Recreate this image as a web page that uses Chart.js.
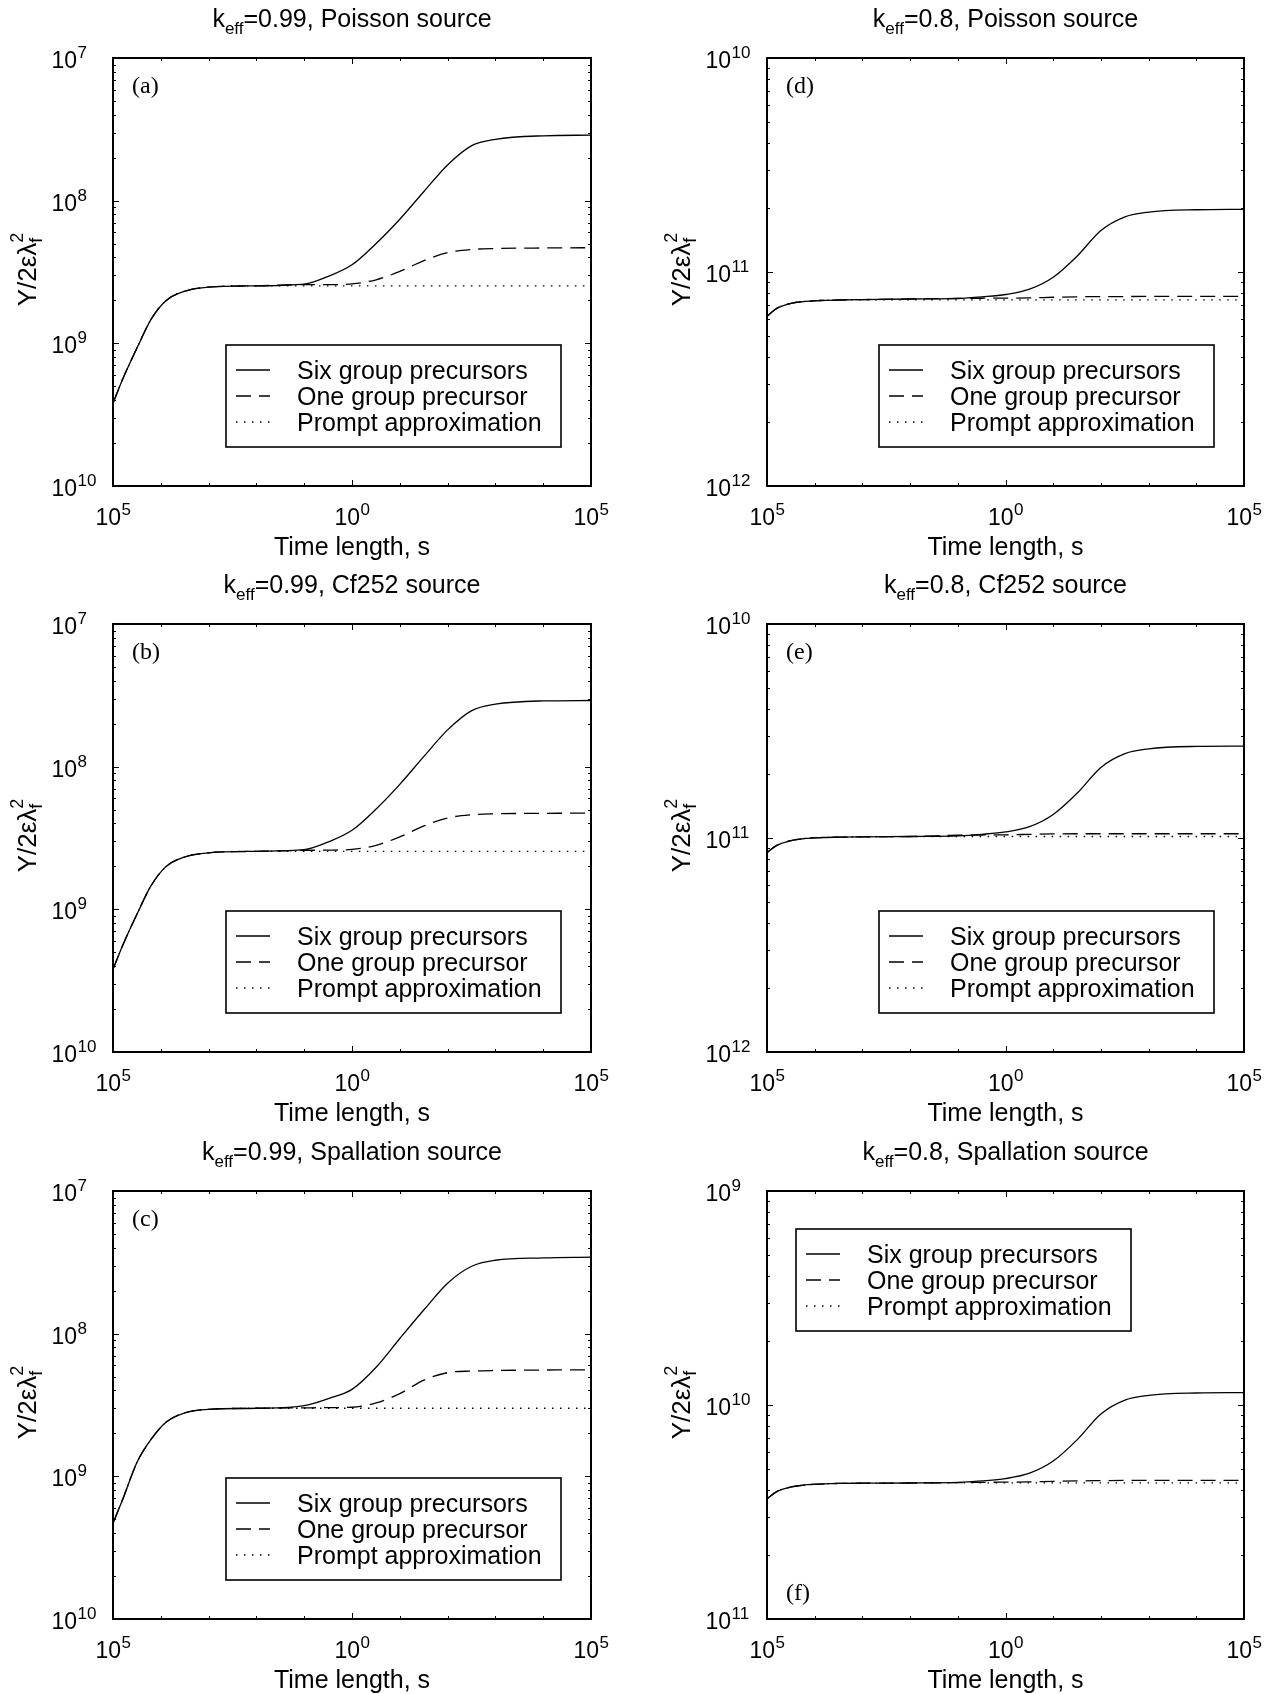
<!DOCTYPE html>
<html>
<head>
<meta charset="utf-8">
<script src="https://cdn.jsdelivr.net/npm/chart.js@4.4.1/dist/chart.umd.min.js"></script>
<style>
  body { margin: 0; background: #fff; width: 1276px; height: 1694px; position: relative; overflow: hidden; }
  canvas { position: absolute; }
</style>
</head>
<body>
<canvas id="chart-a" width="638" height="566" style="left:0;top:0"></canvas>
<canvas id="chart-d" width="638" height="566" style="left:638px;top:0"></canvas>
<canvas id="chart-b" width="638" height="566" style="left:0;top:566px"></canvas>
<canvas id="chart-e" width="638" height="566" style="left:638px;top:566px"></canvas>
<canvas id="chart-c" width="638" height="566" style="left:0;top:1133px"></canvas>
<canvas id="chart-f" width="638" height="566" style="left:638px;top:1133px"></canvas>
<script>
// Time points (s), shared by every curve
const times = [1e-5, 1.6e-5, 3.2e-5, 6.3e-5, 1.3e-4, 3.2e-4, 1e-3, 1e-2, 0.1, 0.32, 1, 3.2, 10, 32, 100, 320, 1e3, 1e4, 1e5];

// k_eff = 0.99, Poisson source (a)
const sixA = [3.80e-10, 5.62e-10, 9.33e-10, 1.48e-9, 2.00e-9, 2.32e-9, 2.48e-9, 2.53e-9, 2.60e-9, 2.95e-9, 3.55e-9, 5.01e-9, 7.41e-9, 1.16e-8, 1.78e-8, 2.43e-8, 2.69e-8, 2.85e-8, 2.88e-8];
const oneA = [3.80e-10, 5.62e-10, 9.33e-10, 1.48e-9, 2.00e-9, 2.32e-9, 2.48e-9, 2.53e-9, 2.58e-9, 2.58e-9, 2.61e-9, 2.79e-9, 3.19e-9, 3.80e-9, 4.32e-9, 4.55e-9, 4.62e-9, 4.66e-9, 4.68e-9];
const promptA = [3.80e-10, 5.62e-10, 9.33e-10, 1.48e-9, 2.00e-9, 2.32e-9, 2.48e-9, 2.53e-9, 2.53e-9, 2.53e-9, 2.53e-9, 2.53e-9, 2.53e-9, 2.53e-9, 2.53e-9, 2.53e-9, 2.53e-9, 2.53e-9, 2.53e-9];

// k_eff = 0.99, Cf252 source (b)
const sixB = [3.80e-10, 5.60e-10, 9.30e-10, 1.47e-9, 2.00e-9, 2.33e-9, 2.49e-9, 2.55e-9, 2.62e-9, 2.97e-9, 3.58e-9, 5.05e-9, 7.52e-9, 1.18e-8, 1.81e-8, 2.47e-8, 2.74e-8, 2.89e-8, 2.91e-8];
const oneB = [3.80e-10, 5.60e-10, 9.30e-10, 1.47e-9, 2.00e-9, 2.33e-9, 2.49e-9, 2.55e-9, 2.59e-9, 2.60e-9, 2.63e-9, 2.81e-9, 3.22e-9, 3.84e-9, 4.37e-9, 4.60e-9, 4.67e-9, 4.71e-9, 4.72e-9];
const promptB = [3.80e-10, 5.60e-10, 9.30e-10, 1.47e-9, 2.00e-9, 2.33e-9, 2.49e-9, 2.55e-9, 2.55e-9, 2.55e-9, 2.55e-9, 2.55e-9, 2.55e-9, 2.55e-9, 2.55e-9, 2.55e-9, 2.55e-9, 2.55e-9, 2.55e-9];

// k_eff = 0.99, Spallation source (c)
const sixC = [4.68e-10, 6.92e-10, 1.26e-9, 1.82e-9, 2.40e-9, 2.79e-9, 2.95e-9, 3.00e-9, 3.13e-9, 3.51e-9, 4.07e-9, 5.82e-9, 9.25e-9, 1.47e-8, 2.26e-8, 2.97e-8, 3.27e-8, 3.40e-8, 3.44e-8];
const oneC = [4.68e-10, 6.92e-10, 1.26e-9, 1.82e-9, 2.40e-9, 2.79e-9, 2.95e-9, 3.00e-9, 3.02e-9, 3.03e-9, 3.05e-9, 3.27e-9, 3.80e-9, 4.73e-9, 5.33e-9, 5.47e-9, 5.52e-9, 5.56e-9, 5.58e-9];
const promptC = [4.68e-10, 6.92e-10, 1.26e-9, 1.82e-9, 2.40e-9, 2.79e-9, 2.95e-9, 3.00e-9, 3.00e-9, 3.00e-9, 3.00e-9, 3.00e-9, 3.00e-9, 3.00e-9, 3.00e-9, 3.00e-9, 3.00e-9, 3.00e-9, 3.00e-9];

// k_eff = 0.8, Poisson source (d)
const sixD = [6.22e-12, 6.76e-12, 7.14e-12, 7.29e-12, 7.36e-12, 7.40e-12, 7.43e-12, 7.48e-12, 7.53e-12, 7.66e-12, 7.85e-12, 8.32e-12, 9.46e-12, 1.189e-11, 1.563e-11, 1.811e-11, 1.905e-11, 1.954e-11, 1.963e-11];
const oneD = [6.22e-12, 6.76e-12, 7.14e-12, 7.29e-12, 7.36e-12, 7.40e-12, 7.43e-12, 7.48e-12, 7.52e-12, 7.54e-12, 7.55e-12, 7.57e-12, 7.62e-12, 7.66e-12, 7.67e-12, 7.68e-12, 7.69e-12, 7.69e-12, 7.69e-12];
const promptD = [6.22e-12, 6.76e-12, 7.14e-12, 7.29e-12, 7.36e-12, 7.40e-12, 7.41e-12, 7.41e-12, 7.41e-12, 7.41e-12, 7.41e-12, 7.41e-12, 7.41e-12, 7.41e-12, 7.41e-12, 7.41e-12, 7.41e-12, 7.41e-12, 7.41e-12];

// k_eff = 0.8, Cf252 source (e)
const sixE = [8.55e-12, 9.23e-12, 9.73e-12, 9.95e-12, 1.005e-11, 1.009e-11, 1.012e-11, 1.016e-11, 1.023e-11, 1.040e-11, 1.067e-11, 1.130e-11, 1.288e-11, 1.622e-11, 2.138e-11, 2.48e-11, 2.61e-11, 2.68e-11, 2.69e-11];
const oneE = [8.55e-12, 9.23e-12, 9.73e-12, 9.95e-12, 1.005e-11, 1.009e-11, 1.012e-11, 1.016e-11, 1.030e-11, 1.033e-11, 1.035e-11, 1.040e-11, 1.045e-11, 1.047e-11, 1.047e-11, 1.047e-11, 1.047e-11, 1.047e-11, 1.047e-11];
const promptE = [8.55e-12, 9.23e-12, 9.73e-12, 9.95e-12, 1.005e-11, 1.009e-11, 1.012e-11, 1.016e-11, 1.016e-11, 1.016e-11, 1.016e-11, 1.016e-11, 1.016e-11, 1.016e-11, 1.016e-11, 1.016e-11, 1.016e-11, 1.016e-11, 1.016e-11];

// k_eff = 0.8, Spallation source (f)
const sixF = [3.64e-11, 3.94e-11, 4.14e-11, 4.23e-11, 4.27e-11, 4.30e-11, 4.31e-11, 4.32e-11, 4.345e-11, 4.416e-11, 4.53e-11, 4.80e-11, 5.47e-11, 6.89e-11, 9.08e-11, 1.054e-10, 1.109e-10, 1.138e-10, 1.143e-10];
const oneF = [3.64e-11, 3.94e-11, 4.14e-11, 4.23e-11, 4.27e-11, 4.30e-11, 4.31e-11, 4.32e-11, 4.34e-11, 4.35e-11, 4.36e-11, 4.37e-11, 4.40e-11, 4.42e-11, 4.43e-11, 4.44e-11, 4.44e-11, 4.44e-11, 4.44e-11];
const promptF = [3.64e-11, 3.94e-11, 4.14e-11, 4.23e-11, 4.27e-11, 4.30e-11, 4.31e-11, 4.32e-11, 4.33e-11, 4.33e-11, 4.33e-11, 4.33e-11, 4.33e-11, 4.33e-11, 4.33e-11, 4.33e-11, 4.33e-11, 4.33e-11, 4.33e-11];

// Tick labels (printed as in the figure: "10" with the exponent digits)
const xTickValues = [1e-5, 1, 1e5];
const xTickExps = ["5", "0", "5"];
const yTicks99 = [1e-10, 1e-9, 1e-8, 1e-7];
const yExps99 = ["10", "9", "8", "7"];
const yTicks80 = [1e-12, 1e-11, 1e-10];
const yExps80 = ["12", "11", "10"];
const yTicksSpall80 = [1e-11, 1e-10, 1e-9];
const yExpsSpall80 = ["11", "10", "9"];

const seriesLabels = ["Six group precursors", "One group precursor", "Prompt approximation"];
const DASHES = [[], [15, 8], [1.5, 6.5]];

const SANS = "'Liberation Sans', Arial, sans-serif";
const SERIF = "'Liberation Serif', 'Times New Roman', serif";
const LABEL_FONT = "25px " + SANS;
const SUB_FONT = "17px " + SANS;
const YLAB_FONT = "26px " + SANS;
const YLAB_SUB_FONT = "18px " + SANS;
const TICK_FONT = "23px " + SANS;
const EXP_FONT = "17px " + SANS;

function xy(values) {
  return times.map((t, i) => ({ x: t, y: values[i] }));
}

function drawPower(ctx, x, baseline, exp, align) {
  ctx.font = TICK_FONT;
  const w1 = ctx.measureText("10").width;
  ctx.font = EXP_FONT;
  const w2 = ctx.measureText(exp).width;
  let x0 = x;
  if (align === "center") x0 = x - (w1 + w2) / 2;
  if (align === "base-right") x0 = x - w1;
  ctx.textAlign = "left";
  ctx.textBaseline = "alphabetic";
  ctx.font = TICK_FONT;
  ctx.fillText("10", x0, baseline);
  ctx.font = EXP_FONT;
  ctx.fillText(exp, x0 + w1 + 0.5, baseline - 10);
}

// Axes box, inward ticks, labels, title and legend
const panelDecor = {
  id: "panelDecor",
  afterDatasetsDraw(chart, args, o) {
    const ctx = chart.ctx;
    const { left, right, top, bottom } = chart.chartArea;
    const xs = chart.scales.x;
    const ys = chart.scales.y;
    ctx.save();
    ctx.strokeStyle = "#000";
    ctx.fillStyle = "#000";
    ctx.setLineDash([]);

    // ticks
    ctx.lineWidth = 1;
    ctx.beginPath();
    for (let e = -5; e <= 5; e++) {
      const px = Math.round(xs.getPixelForValue(10 ** e)) + 0.5;
      const len = xTickValues.includes(10 ** e) ? 6 : 3;
      ctx.moveTo(px, bottom); ctx.lineTo(px, bottom - len);
      ctx.moveTo(px, top); ctx.lineTo(px, top + len);
    }
    const d0 = Math.round(Math.log10(ys.min));
    const d1 = Math.round(Math.log10(ys.max));
    for (let d = d0; d <= d1; d++) {
      for (let m = 1; m <= 9; m++) {
        if (d === d1 && m > 1) break;
        const py = Math.round(ys.getPixelForValue(m * 10 ** d)) + 0.5;
        const len = m === 1 ? 6 : 3;
        ctx.moveTo(left, py); ctx.lineTo(left + len, py);
        ctx.moveTo(right, py); ctx.lineTo(right - len, py);
      }
    }
    ctx.stroke();

    // box
    ctx.lineWidth = 2;
    ctx.strokeRect(left, top, right - left, bottom - top);

    // tick labels
    xTickValues.forEach((v, i) => {
      drawPower(ctx, xs.getPixelForValue(v), bottom + 39, xTickExps[i], "center");
    });
    o.yTicks.forEach((v, i) => {
      drawPower(ctx, left - 36, ys.getPixelForValue(v) + 10, o.yExps[i], "base-right");
    });

    // axis title
    ctx.font = LABEL_FONT;
    ctx.textAlign = "center";
    ctx.fillText("Time length, s", (left + right) / 2, bottom + 69);

    // y label, rotated
    ctx.save();
    ctx.translate(left - 77, (top + bottom) / 2);
    ctx.rotate(-Math.PI / 2);
    ctx.font = YLAB_FONT;
    const main = "Y/2\u03b5\u03bb";
    const wm = ctx.measureText(main).width;
    ctx.font = YLAB_SUB_FONT;
    const ws = ctx.measureText("f").width;
    const x0 = -(wm + ws) / 2;
    ctx.textAlign = "left";
    ctx.font = YLAB_FONT;
    ctx.fillText(main, x0, 0);
    ctx.font = YLAB_SUB_FONT;
    ctx.fillText("f", x0 + wm, 6);
    ctx.fillText("2", x0 + wm, -13);
    ctx.restore();

    // title: k_eff=...
    ctx.font = LABEL_FONT;
    const wk = ctx.measureText("k").width;
    const wr = ctx.measureText(o.title).width;
    ctx.font = SUB_FONT;
    const we = ctx.measureText("eff").width;
    const tx = (left + right) / 2 - (wk + we + wr) / 2;
    const ty = top - 31;
    ctx.textAlign = "left";
    ctx.font = LABEL_FONT;
    ctx.fillText("k", tx, ty);
    ctx.font = SUB_FONT;
    ctx.fillText("eff", tx + wk, ty + 7);
    ctx.font = LABEL_FONT;
    ctx.fillText(o.title, tx + wk + we, ty);

    // panel letter
    ctx.font = "24px " + SERIF;
    ctx.fillText(o.letter, left + 19, o.letterAtTop ? top + 35 : bottom - 19);

    // legend
    const bw = 335, bh = 102;
    const bx = o.legendAtTop ? left + 29 : right - 30 - bw;
    const by = o.legendAtTop ? top + 38 : bottom - 39 - bh;
    ctx.fillStyle = "#fff";
    ctx.fillRect(bx, by, bw, bh);
    ctx.fillStyle = "#000";
    ctx.lineWidth = 1.6;
    ctx.strokeRect(bx, by, bw, bh);
    seriesLabels.forEach((lab, i) => {
      const ry = by + 25 + i * 26;
      ctx.lineWidth = 1.3;
      ctx.setLineDash(DASHES[i]);
      ctx.beginPath();
      ctx.moveTo(bx + 10, ry);
      ctx.lineTo(bx + 44, ry);
      ctx.stroke();
      ctx.setLineDash([]);
      ctx.font = LABEL_FONT;
      ctx.fillText(lab, bx + 71, ry + 9);
    });
    ctx.restore();
  }
};

function makeChart(id, series, opts) {
  const colLeft = id === "chart-a" || id === "chart-b" || id === "chart-c";
  return new Chart(document.getElementById(id), {
    type: "line",
    data: {
      datasets: series.map((vals, i) => ({
        label: seriesLabels[i],
        data: xy(vals),
        borderColor: "#000",
        borderWidth: 1.3,
        borderDash: DASHES[i],
        pointRadius: 0,
        cubicInterpolationMode: "monotone",
        fill: false,
      })),
    },
    options: {
      responsive: false,
      animation: false,
      devicePixelRatio: 1,
      layout: { padding: { left: colLeft ? 113 : 129, right: colLeft ? 47 : 32, top: 58, bottom: 80 } },
      scales: {
        x: { type: "logarithmic", min: 1e-5, max: 1e5, display: false },
        y: { type: "logarithmic", min: opts.yTicks[0], max: opts.yTicks[opts.yTicks.length - 1], display: false },
      },
      plugins: {
        legend: { display: false },
        tooltip: { enabled: false },
        panelDecor: opts,
      },
    },
    plugins: [panelDecor],
  });
}

makeChart("chart-a", [sixA, oneA, promptA], { title: "=0.99, Poisson source", letter: "(a)", letterAtTop: true, legendAtTop: false, yTicks: yTicks99, yExps: yExps99 });
makeChart("chart-b", [sixB, oneB, promptB], { title: "=0.99, Cf252 source", letter: "(b)", letterAtTop: true, legendAtTop: false, yTicks: yTicks99, yExps: yExps99 });
makeChart("chart-c", [sixC, oneC, promptC], { title: "=0.99, Spallation source", letter: "(c)", letterAtTop: true, legendAtTop: false, yTicks: yTicks99, yExps: yExps99 });
makeChart("chart-d", [sixD, oneD, promptD], { title: "=0.8, Poisson source", letter: "(d)", letterAtTop: true, legendAtTop: false, yTicks: yTicks80, yExps: yExps80 });
makeChart("chart-e", [sixE, oneE, promptE], { title: "=0.8, Cf252 source", letter: "(e)", letterAtTop: true, legendAtTop: false, yTicks: yTicks80, yExps: yExps80 });
makeChart("chart-f", [sixF, oneF, promptF], { title: "=0.8, Spallation source", letter: "(f)", letterAtTop: false, legendAtTop: true, yTicks: yTicksSpall80, yExps: yExpsSpall80 });
</script>
</body>
</html>
